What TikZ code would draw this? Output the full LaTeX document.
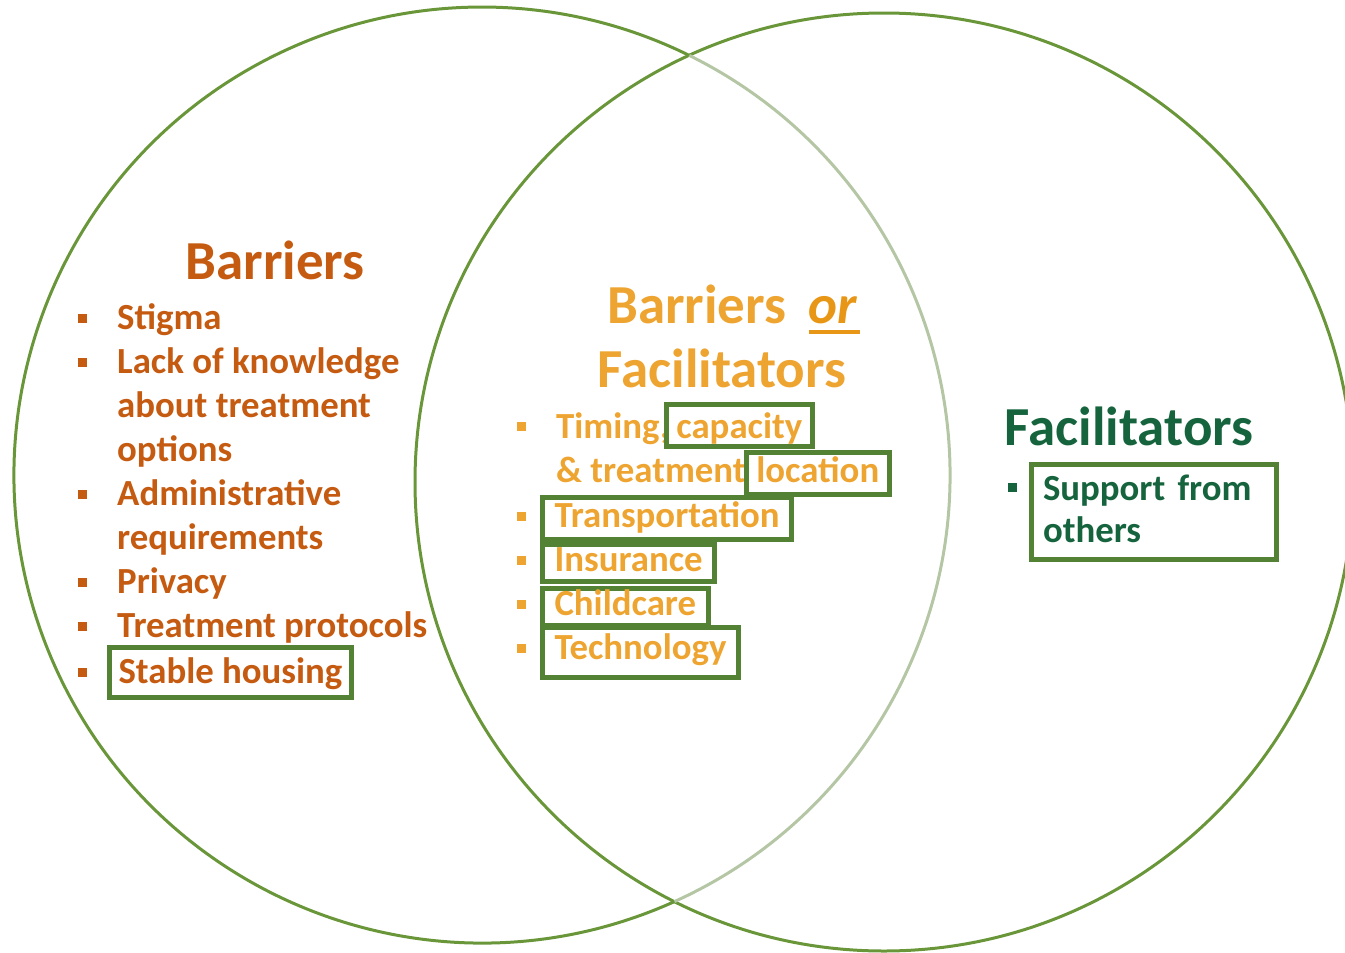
\documentclass[tikz,border=0pt]{standalone}
\usepackage{fontspec}
\setmainfont{Carlito}
\usepackage{tikz}
\usetikzlibrary{positioning}
\definecolor{ring}{RGB}{106, 150, 58}
\definecolor{ringfade}{RGB}{180, 198, 164}
\definecolor{boxgreen}{RGB}{84, 130, 53}
\definecolor{barrier}{RGB}{197, 90, 17}
\definecolor{mixed}{RGB}{238, 164, 48}
\definecolor{mixedor}{RGB}{232, 150, 22}
\definecolor{facil}{RGB}{22, 100, 62}
\tikzset{
  ringline/.style={draw=ring, line width=3pt},
  headline/.style={
    font=\bfseries\fontsize{55}{60}\selectfont, inner sep=0pt, anchor=base
  },
  itemtext/.style={
    font=\bfseries\fontsize{36.8}{44}\selectfont, inner sep=0pt,
    align=left, anchor=base west
  },
  boxword/.style={
    itemtext, draw=boxgreen, line width=5pt,
    inner xsep=12pt, inner ysep=4pt, text height=26pt, text depth=8pt
  },
  sqbullet/.style={rectangle, minimum size=9pt, inner sep=0pt}
}

\begin{document}
\begin{tikzpicture}[x=1pt, y=-1pt]
  \useasboundingbox (0,0) rectangle (1345,953);

  % the two sets, left one fades where it runs inside the right one
  \coordinate (barC) at (482,475);
  \coordinate (facC) at (884,482);
  \draw[ringline] (facC) circle[radius=469];
  \draw[ringline] ([shift={(65.7:468)}]barC) arc[start angle=65.7, end angle=296.3, radius=468];
  \draw[ringline, draw=ringfade] ([shift={(-63.7:468)}]barC) arc[start angle=-63.7, end angle=65.7, radius=468];

  % barriers only (multi-line nodes sit on their last line)
  \node[headline, text=barrier] (barhead) at (275,279) {Barriers};
  \node[itemtext, text=barrier] (stigma) at (117,329) {Stigma};
  \node[itemtext, text=barrier] (lack) at ([yshift=-132pt]stigma.base west) {Lack of knowledge\\about treatment\\options};
  \node[itemtext, text=barrier] (admin) at ([yshift=-88pt]lack.base west) {Administrative\\requirements};
  \node[itemtext, text=barrier] (privacy) at ([yshift=-44pt]admin.base west) {Privacy};
  \node[itemtext, text=barrier] (protocols) at ([yshift=-44pt]privacy.base west) {Treatment protocols};
  \node[boxword, text=barrier, inner xsep=9pt, text height=30pt, inner ysep=6pt] (housing) at ([xshift=-10pt, yshift=-46pt]protocols.base west) {Stable housing};

  % barriers or facilitators
  \node[headline, text=mixed, anchor=base west] (mixhead) at (607,323) {Barriers};
  \node[headline, text=mixedor, base right=22pt of mixhead] (ornode) {\itshape or};
  \draw[mixedor, line width=4pt] ([yshift=-9pt]ornode.base west) -- ([xshift=3pt, yshift=-9pt]ornode.base east);
  \node[headline, text=mixed] (mixhead2) at (722,387) {Facilitators};
  \node[itemtext, text=mixed] (timing) at (556,438) {Timing,};
  \node[boxword, text=mixed, base right=-6pt of timing, inner xsep=10pt, text height=30pt, text depth=4pt] (capacity) {capacity};
  \node[itemtext, text=mixed] (treat) at ([yshift=-44pt]timing.base west) {\& treatment};
  \node[boxword, text=mixed, base right=-2pt of treat, inner xsep=10pt] (location) {location};
  \node[boxword, text=mixed] (transport) at ([xshift=-16pt, yshift=-45pt]treat.base west) {Transportation};
  \node[boxword, text=mixed, text height=23pt, text depth=6pt] (insurance) at ([yshift=-44pt]transport.base west) {Insurance};
  \node[boxword, text=mixed, text height=23pt, text depth=6pt] (childcare) at ([yshift=-44pt]insurance.base west) {Childcare};
  \node[boxword, text=mixed, text height=28pt, text depth=14pt] (technology) at ([yshift=-44pt]childcare.base west) {Technology};

  % facilitators only
  \node[headline, text=facil] (fachead) at (1129,445) {Facilitators};
  \node[boxword, text=facil, inner xsep=12pt, text width=221pt, text height=32pt, text depth=55pt, inner ysep=4pt,
        font=\bfseries\fontsize{36.8}{42}\selectfont] (support) at (1028.5,500) {Support from\\others};

  % square bullets, raised to the first line of each item
  \foreach \n/\up in {stigma/11, lack/99, admin/55, privacy/11, protocols/11}
    \node[sqbullet, fill=barrier] (b-\n) at ([xshift=-35pt, yshift=\up pt]\n.base west) {};
  \node[sqbullet, fill=barrier] (b-housing) at ([xshift=-25pt, yshift=11pt]housing.base west) {};
  \node[sqbullet, fill=mixed] (b-timing) at ([xshift=-35pt, yshift=12pt]timing.base west) {};
  \foreach \n in {transport, insurance, childcare, technology}
    \node[sqbullet, fill=mixed] (b-\n) at ([xshift=-19pt, yshift=11pt]\n.base west) {};
  \node[sqbullet, fill=facil] (b-support) at ([xshift=-16pt, yshift=13pt]support.base west) {};
\end{tikzpicture}
\end{document}
